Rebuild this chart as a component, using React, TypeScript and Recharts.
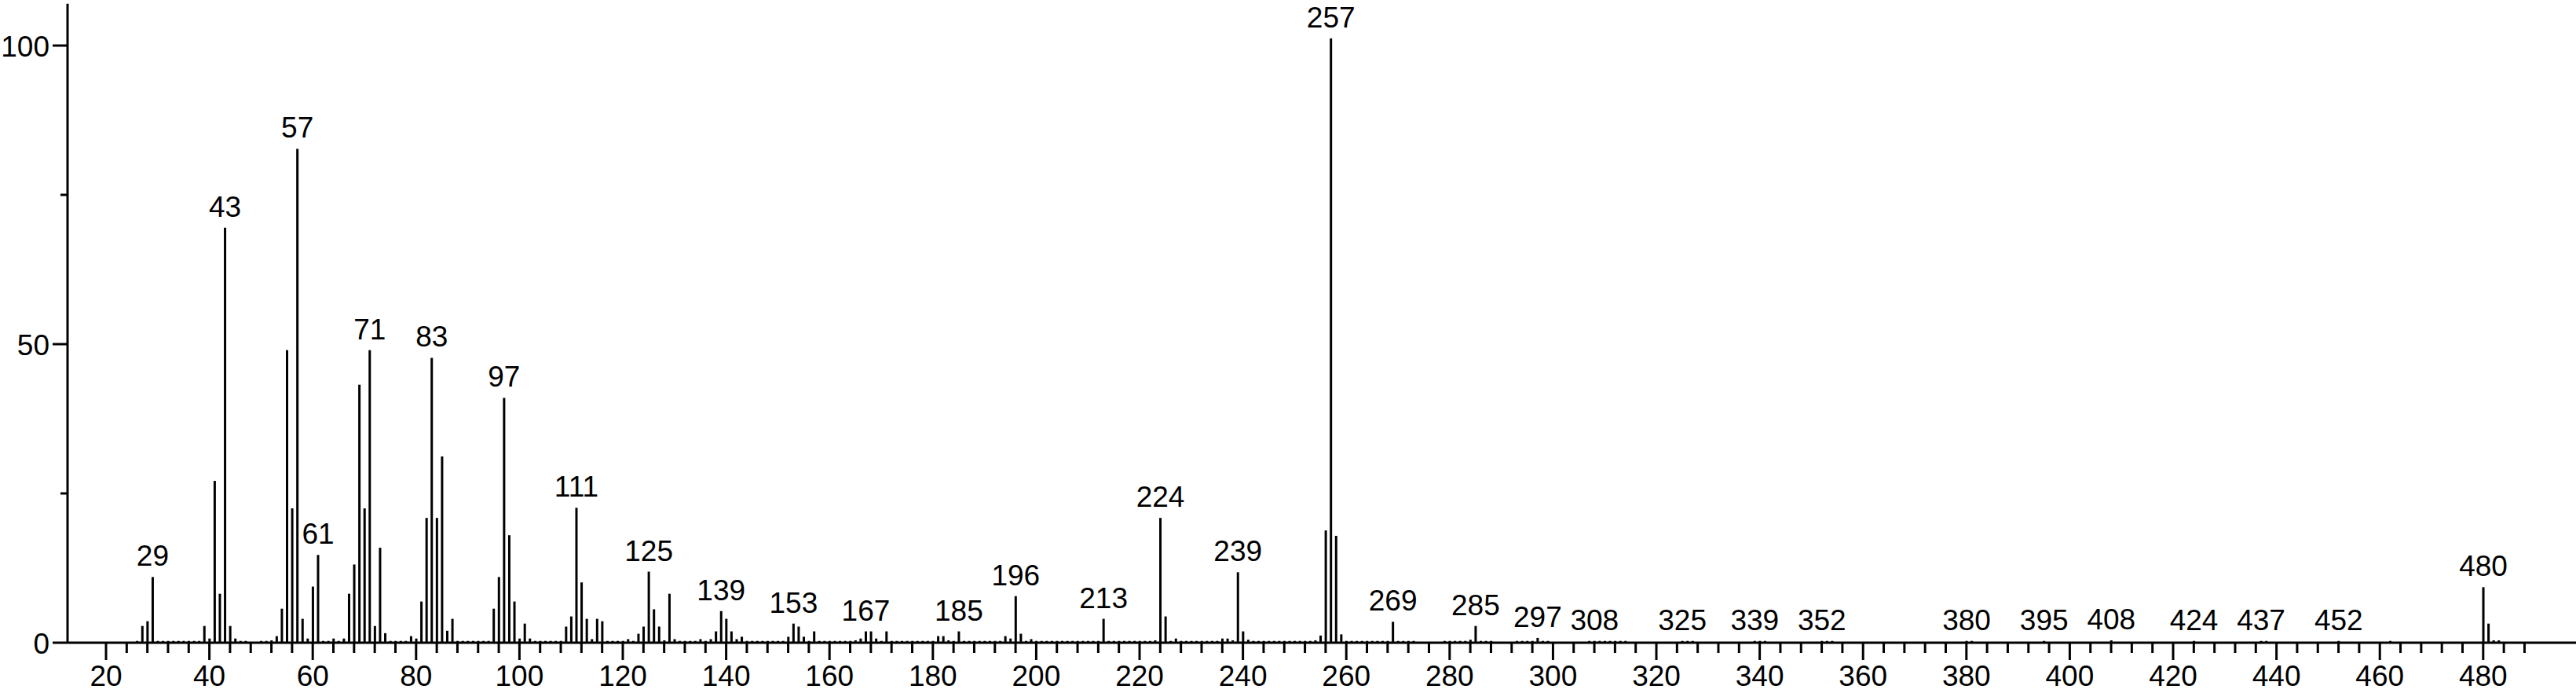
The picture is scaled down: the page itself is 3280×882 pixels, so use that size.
import React from 'react';
import { BarChart, Bar, XAxis, YAxis, LabelList } from 'recharts';

// Significant peaks: [m/z, relative intensity]
const majorPeaks: [number, number][] = [
  [27, 2.8], [28, 3.6], [29, 11.0], [39, 2.8], [40, 0.7], [41, 27.1], [42, 8.2], [43, 69.5],
  [44, 2.8], [45, 0.7], [53, 1.1], [54, 5.7], [55, 49.0], [56, 22.5], [57, 82.7], [58, 4.0],
  [59, 0.7], [60, 9.4], [61, 14.7], [64, 0.7], [66, 0.7], [67, 8.2], [68, 13.1], [69, 43.2],
  [70, 22.5], [71, 49.0], [72, 2.8], [73, 15.9], [74, 1.6], [79, 1.1], [80, 0.7], [81, 6.9],
  [82, 20.9], [83, 47.7], [84, 20.9], [85, 31.2], [86, 2.0], [87, 4.0], [95, 5.7], [96, 11.0],
  [97, 41.0], [98, 18.0], [99, 6.9], [100, 0.7], [101, 3.2], [102, 0.7], [109, 2.7], [110, 4.4],
  [111, 22.6], [112, 10.1], [113, 4.0], [114, 0.6], [115, 4.0], [116, 3.6], [121, 0.6], [123, 1.5],
  [124, 2.7], [125, 11.9], [126, 5.6], [127, 2.7], [129, 8.2], [130, 0.6], [135, 0.6], [137, 0.6],
  [138, 1.9], [139, 5.3], [140, 4.0], [141, 1.9], [142, 0.6], [143, 1.0], [152, 1.0], [153, 3.2],
  [154, 2.7], [155, 1.0], [157, 1.9], [166, 0.7], [167, 1.9], [168, 1.9], [169, 0.7], [171, 1.9],
  [181, 1.1], [182, 1.1], [185, 1.9], [194, 1.1], [195, 0.7], [196, 7.8], [197, 1.5], [199, 0.6],
  [213, 4.0], [224, 20.9], [225, 4.4], [227, 0.7], [236, 0.7], [237, 0.7], [239, 11.8], [240, 1.9],
  [241, 0.5], [255, 1.2], [256, 18.8], [257, 101.2], [258, 17.9], [259, 1.4], [269, 3.5], [284, 0.5],
  [285, 2.8], [297, 0.8], [480, 9.3], [481, 3.2], [482, 0.4], [483, 0.4],
];

// Tiny baseline peaks: [m/z, relative intensity]
const baselinePeaks: [number, number][] = [
  [26, 0.3], [30, 0.3], [31, 0.3], [32, 0.3], [33, 0.3], [34, 0.3], [35, 0.3], [36, 0.3], [37, 0.3], [38, 0.3],
  [46, 0.3], [47, 0.3], [50, 0.3], [51, 0.3], [52, 0.4], [62, 0.3], [63, 0.3], [65, 0.3],
  [75, 0.3], [76, 0.3], [77, 0.3], [78, 0.3], [88, 0.3], [89, 0.3], [90, 0.3], [91, 0.3], [92, 0.3], [93, 0.3], [94, 0.3],
  [103, 0.3], [104, 0.3], [105, 0.3], [106, 0.3], [107, 0.3], [108, 0.3], [117, 0.3], [118, 0.3], [119, 0.3], [120, 0.3], [122, 0.3],
  [128, 0.4], [131, 0.3], [132, 0.3], [133, 0.3], [134, 0.3], [136, 0.3], [144, 0.3], [145, 0.3], [146, 0.3], [147, 0.3],
  [148, 0.3], [149, 0.3], [150, 0.3], [151, 0.3], [156, 0.3], [158, 0.3], [159, 0.3], [160, 0.3], [161, 0.3], [162, 0.3],
  [163, 0.3], [164, 0.3], [165, 0.4], [170, 0.3], [172, 0.3], [173, 0.3], [174, 0.3], [175, 0.3], [176, 0.3], [177, 0.3],
  [178, 0.3], [179, 0.3], [180, 0.3], [183, 0.4], [184, 0.3], [186, 0.3], [187, 0.3], [188, 0.3], [189, 0.3], [190, 0.3],
  [191, 0.3], [192, 0.3], [193, 0.3], [198, 0.3], [200, 0.3], [201, 0.3], [202, 0.3], [203, 0.3], [204, 0.3], [205, 0.3],
  [206, 0.3], [207, 0.3], [208, 0.3], [209, 0.3], [210, 0.3], [211, 0.3], [212, 0.3], [214, 0.3], [215, 0.3], [216, 0.3],
  [217, 0.3], [218, 0.3], [219, 0.3], [220, 0.3], [221, 0.3], [222, 0.3], [223, 0.4], [226, 0.3], [228, 0.3], [229, 0.3],
  [230, 0.3], [231, 0.3], [232, 0.3], [233, 0.3], [234, 0.3], [235, 0.3], [238, 0.4], [242, 0.3], [243, 0.3], [244, 0.3],
  [245, 0.3], [246, 0.3], [247, 0.3], [248, 0.3], [249, 0.3], [250, 0.3], [251, 0.3], [252, 0.3], [253, 0.3], [254, 0.4],
  [260, 0.3], [261, 0.3], [262, 0.3], [263, 0.3], [264, 0.3], [265, 0.3], [266, 0.3], [267, 0.3], [268, 0.3], [270, 0.3],
  [271, 0.3], [272, 0.3], [273, 0.3], [279, 0.3], [280, 0.3], [281, 0.3], [282, 0.3], [283, 0.3], [286, 0.3], [287, 0.3],
  [288, 0.3], [293, 0.3], [294, 0.3], [295, 0.3], [296, 0.3], [298, 0.3], [299, 0.3], [307, 0.3], [308, 0.3], [309, 0.3],
  [310, 0.3], [311, 0.3], [312, 0.3], [313, 0.3], [314, 0.3], [325, 0.3], [326, 0.3], [327, 0.3], [339, 0.3], [340, 0.3],
  [341, 0.3], [352, 0.3], [353, 0.3], [354, 0.3], [380, 0.3], [381, 0.3], [395, 0.3], [408, 0.4], [424, 0.3], [437, 0.3],
  [438, 0.3], [452, 0.3], [462, 0.3],
];

const labeledMz = [29, 43, 57, 61, 71, 83, 97, 111, 125, 139, 153, 167, 185, 196, 213, 224, 239, 257, 269, 285,
  297, 308, 325, 339, 352, 380, 395, 408, 424, 437, 452, 480];

const xMajorTicks = [20, 40, 60, 80, 100, 120, 140, 160, 180, 200, 220, 240, 260, 280, 300, 320, 340, 360, 380, 400, 420, 440, 460, 480];
const xMinorStep = 4;
const xLastTick = 488;
const yTicks = [0, 25, 50, 75, 100];
const yLabeledTicks = [0, 50, 100];

const FONT = '"Liberation Sans", Arial, sans-serif';
const FS = 37;

const xTicks: number[] = [];
for (let t = xMajorTicks[0]; t <= xLastTick; t += xMinorStep) xTicks.push(t);

const data = [...majorPeaks, ...baselinePeaks]
  .map(([m, v]) => ({ m, v, label: labeledMz.includes(m) ? String(m) : '' }))
  .sort((a, b) => a.m - b.m);

const Stick = (p: any) => {
  const { x, y, width, height } = p;
  if (x == null || y == null) return null;
  const cx = x + width / 2;
  return <rect x={cx - 1.5} y={y} width={3} height={Math.max(0, height)} fill="#000" />;
};

const PeakLabel = (p: any) => {
  const { x, y, width, value } = p;
  if (!value) return null;
  return (
    <text x={x + width / 2} y={y - 14} textAnchor="middle" fontSize={FS} fontFamily={FONT} fill="#000">
      {value}
    </text>
  );
};

const XTick = (p: any) => {
  const { x, y, payload } = p;
  const v = payload.value;
  const major = xMajorTicks.includes(v);
  return (
    <g>
      <line x1={x} x2={x} y1={y} y2={y + (major ? 22 : 13)} stroke="#000" strokeWidth={3} />
      {major && (
        <text x={x} y={y + 55} textAnchor="middle" fontSize={FS} fontFamily={FONT} fill="#000">
          {v}
        </text>
      )}
    </g>
  );
};

const YTick = (p: any) => {
  const { x, y, payload } = p;
  const v = payload.value;
  const major = yLabeledTicks.includes(v);
  return (
    <g>
      <line x1={x - (major ? 19 : 9)} x2={x} y1={y} y2={y} stroke="#000" strokeWidth={3} />
      {major && (
        <text x={x - 23} y={y + 14} textAnchor="end" fontSize={FS} fontFamily={FONT} fill="#000">
          {v}
        </text>
      )}
    </g>
  );
};

export default function App() {
  return (
    <div style={{ position: 'absolute', left: 0, top: 0, width: 3280, height: 882, background: '#fff' }}>
      <BarChart width={3280} height={882} data={data} margin={{ top: 4.8, right: 0, left: 0, bottom: 0 }}>
        <XAxis
          dataKey="m"
          type="number"
          domain={[12.553, 497.96]}
          allowDataOverflow
          ticks={xTicks}
          interval={0}
          tick={<XTick />}
          tickLine={false}
          tickSize={0}
          tickMargin={0}
          axisLine={{ stroke: '#000', strokeWidth: 3 }}
          height={64}
        />
        <YAxis
          type="number"
          domain={[0, 107]}
          allowDataOverflow
          ticks={yTicks}
          interval={0}
          tick={<YTick />}
          tickLine={false}
          tickSize={0}
          tickMargin={0}
          axisLine={{ stroke: '#000', strokeWidth: 3 }}
          width={86}
        />
        <Bar dataKey="v" barSize={3} shape={<Stick />} isAnimationActive={false}>
          <LabelList dataKey="label" content={<PeakLabel />} />
        </Bar>
      </BarChart>
    </div>
  );
}
